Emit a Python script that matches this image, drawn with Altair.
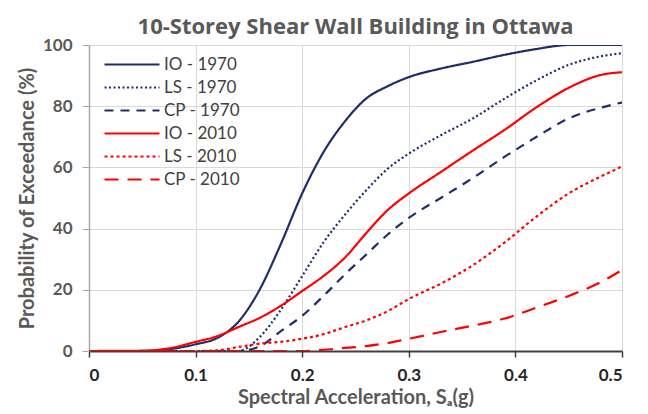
import altair as alt
import pandas as pd

sa = [0, 0.05, 0.08, 0.10, 0.12, 0.14, 0.16, 0.18, 0.20, 0.22, 0.24, 0.26, 0.28,
      0.30, 0.33, 0.36, 0.39, 0.42, 0.45, 0.48, 0.50]

io_1970 = [0, 0, 0.8, 2.2, 4.2, 9.5, 20, 35, 51.5, 65, 75, 82.5, 86.5,
           89.5, 92.3, 94.5, 96.8, 98.7, 100, 100, 100]
ls_1970 = [0, 0, 0, 0, 0, 0, 4.5, 13.5, 24.5, 35.5, 44.5, 52.5, 59.5,
           64.5, 70.5, 76, 82.5, 88.5, 93.5, 96.3, 97.3]
cp_1970 = [0, 0, 0, 0, 0, 0, 1.5, 6.5, 11.5, 18, 25, 31.5, 38,
           43.5, 50, 56.5, 63.5, 70, 76, 79.5, 81.2]
io_2010 = [0, 0.1, 1.2, 3.0, 4.8, 7.8, 10.8, 14.8, 19.6, 24.5, 30.5, 38.5, 46,
           51.5, 58.5, 65.5, 72.3, 79.7, 86, 90.2, 91.1]
ls_2010 = [0, 0, 0, 0, 0.2, 1.3, 2.4, 3, 4, 5.5, 7.8, 10, 13,
           17, 22, 28, 35.5, 44, 51.5, 57, 60.3]
cp_2010 = [0, 0, 0, 0, 0, 0, 0, 0, 0, 0.4, 1, 1.6, 2.6,
           4, 6.2, 8.3, 10.6, 14.2, 18, 22.5, 26.5]

series_names = ["IO - 1970", "LS - 1970", "CP - 1970", "IO - 2010", "LS - 2010", "CP - 2010"]
series_values = [io_1970, ls_1970, cp_1970, io_2010, ls_2010, cp_2010]

x_ticks = [0, 0.1, 0.2, 0.3, 0.4, 0.5]
y_ticks = [0, 20, 40, 60, 80, 100]

rows = []
for name, vals in zip(series_names, series_values):
    for x, y in zip(sa, vals):
        rows.append({"Sa": x, "P": y, "series": name})
df = pd.DataFrame(rows)

navy = "#1F2E6B"
red = "#FF0000"
colors = [navy, navy, navy, red, red, red]
dashes = [[1, 0], [2, 2.5], [9, 7], [1, 0], [3, 3], [14, 9]]
widths = [2.2, 2.2, 2.6, 3.2, 3.0, 3.6]

FONT = "Lato"

legend = alt.Legend(
    title=None, orient="none", legendX=14, legendY=8,
    symbolType="stroke", symbolSize=3025, clipHeight=23,
    labelFont=FONT, labelFontSize=17, labelColor="#404040", labelOffset=3,
    padding=0, rowPadding=0,
)

chart = alt.Chart(df).mark_line(interpolate="monotone", clip=True).encode(
    x=alt.X("Sa:Q", scale=alt.Scale(domain=[0, 0.5], nice=False),
            axis=alt.Axis(values=x_ticks, format="~g", title="Spectral Acceleration, Sₐ(g)",
                          titleFontSize=20)),
    y=alt.Y("P:Q", scale=alt.Scale(domain=[0, 100], nice=False),
            axis=alt.Axis(values=y_ticks, title="Probability of Exceedance (%)",
                          titleFontSize=20)),
    color=alt.Color("series:N", scale=alt.Scale(domain=series_names, range=colors), legend=legend),
    strokeDash=alt.StrokeDash("series:N", scale=alt.Scale(domain=series_names, range=dashes), legend=legend),
    strokeWidth=alt.StrokeWidth("series:N", scale=alt.Scale(domain=series_names, range=widths), legend=legend),
).properties(
    width=533, height=306,
    title=alt.TitleParams("10-Storey Shear Wall Building in Ottawa", font="Open Sans", fontSize=22,
                          fontWeight="bold", color="#595959", anchor="middle", offset=-3),
    autosize=alt.AutoSizeParams(type="none"),
    padding={"left": 81, "top": 37, "right": 10, "bottom": 58},
).configure_view(stroke=None).configure_axis(
    gridColor="#D9D9D9", gridWidth=1,
    labelFont=FONT, labelFontSize=17, labelFontWeight="bold",
    titleFont=FONT, titleFontWeight="bold", titleColor="#595959",
).configure_axisX(
    domainColor="#404040", domainWidth=2, tickColor="#404040", tickSize=6, tickWidth=1.5,
    labelColor="#262626", labelPadding=10, titlePadding=4,
).configure_axisY(
    domainColor="#A6A6A6", domainWidth=1.5, tickColor="#A6A6A6", tickSize=7,
    labelColor="#595959", labelPadding=10, titlePadding=5,
)

chart.save("out.html", embed_options={"renderer": "svg", "actions": False})
